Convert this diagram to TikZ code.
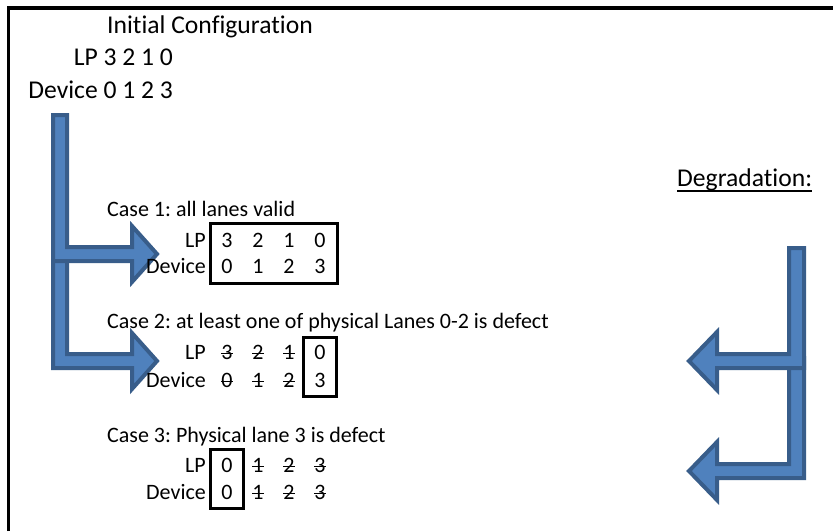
\documentclass[tikz,border=0pt]{standalone}
\usepackage{fontspec}
\setmainfont{Carlito}[Ligatures=NoCommon]
\usetikzlibrary{positioning}
\frenchspacing
\definecolor{barfill}{HTML}{4F81BD}
\definecolor{barline}{HTML}{385D8A}
\newcommand{\lanegone}[1]{\rlap{\rule[0.22em]{0.507em}{0.065em}}#1}
\tikzset{
  bentarrow/.style={fill=barfill,draw=barline,line width=4pt,line join=miter},
  lanebox/.style={draw=black,line width=3pt},
  bigtext/.style={inner sep=0pt,font=\fontsize{25.6}{28}\selectfont},
  casetext/.style={inner sep=0pt,anchor=base west,font=\fontsize{22}{24}\selectfont},
  rowlabel/.style={inner sep=0pt,anchor=base east,font=\fontsize{22}{24}\selectfont},
  lane/.style={inner sep=0pt,anchor=base,font=\fontsize{22}{24}\selectfont},
}
\begin{document}
\begin{tikzpicture}[x=1pt,y=-1pt]
\useasboundingbox (0,0) rectangle (833,531);
\draw[line width=3.5pt] (8.5,531) -- (8.5,8) -- (833,8);
% initial configuration
\node[bigtext,anchor=base west] (init) at (107,33) {Initial Configuration};
\node[bigtext,anchor=base east] (initlp) at (173,65) {LP 3 2 1 0};
\node[bigtext,anchor=base east] (initdev) at (173,98) {Device 0 1 2 3};
\node[bigtext,anchor=base west] (degr) at (677,186) {Degradation:};
\draw[line width=1.5pt] ([yshift=-5pt]degr.base west) -- ([yshift=-5pt]degr.base east);
% bent arrows, left side
\draw[bentarrow] (53,250) -- (67,250) -- (67,354) -- (132,354) -- (132,333) -- (157,361)
  -- (132,389) -- (132,368) -- (53,368) -- cycle;
\draw[bentarrow] (53,115) -- (67,115) -- (67,247) -- (132,247) -- (132,226) -- (157,254)
  -- (132,282) -- (132,261) -- (53,261) -- cycle;
% bent arrows, right side
\draw[bentarrow] (804,358) -- (789,358) -- (789,464) -- (717,464) -- (717,442) -- (689,471)
  -- (717,500) -- (717,478) -- (804,478) -- cycle;
\draw[bentarrow] (804,248) -- (789,248) -- (789,354) -- (717,354) -- (717,332) -- (689,361)
  -- (717,390) -- (717,368) -- (804,368) -- cycle;
% case 1
\node[casetext] (case1) at (107,216) {Case 1: all lanes valid};
\node[rowlabel] (lpa) at (206,247) {LP};
\node[rowlabel] (deva) at (206,273) {Device};
\foreach \d [count=\i] in {3,2,1,0} \node[lane] (lpa\i) at (196+31*\i,247) {\d};
\foreach \d [count=\i] in {0,1,2,3} \node[lane] (deva\i) at (196+31*\i,273) {\d};
\draw[lanebox] (210,223) rectangle (337,283);
% case 2
\node[casetext] (case2) at (107,328) {Case 2: at least one of physical Lanes 0-2 is defect};
\node[rowlabel] (lpb) at (206,359) {LP};
\node[rowlabel] (devb) at (206,387) {Device};
\foreach \d [count=\i] in {\lanegone{3},\lanegone{2},\lanegone{1},0} \node[lane] (lpb\i) at (196+31*\i,359) {\d};
\foreach \d [count=\i] in {\lanegone{0},\lanegone{1},\lanegone{2},3} \node[lane] (devb\i) at (196+31*\i,387) {\d};
\draw[lanebox] (303,337) rectangle (336,396);
% case 3
\node[casetext] (case3) at (107,442) {Case 3: Physical lane 3 is defect};
\node[rowlabel] (lpc) at (206,472) {LP};
\node[rowlabel] (devc) at (206,499) {Device};
\foreach \d [count=\i] in {0,\lanegone{1},\lanegone{2},\lanegone{3}} \node[lane] (lpc\i) at (196+31*\i,472) {\d};
\foreach \d [count=\i] in {0,\lanegone{1},\lanegone{2},\lanegone{3}} \node[lane] (devc\i) at (196+31*\i,499) {\d};
\draw[lanebox] (210,449) rectangle (243,508);
\end{tikzpicture}
\end{document}
